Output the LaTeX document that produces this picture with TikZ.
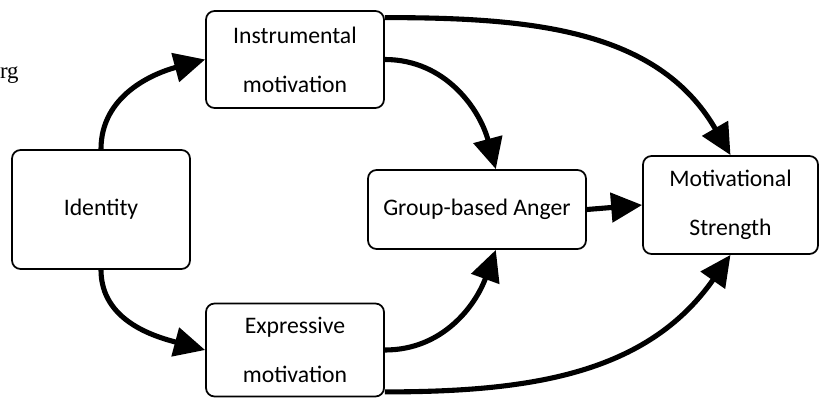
\documentclass[tikz,border=0pt]{standalone}
\usepackage{fontspec}
\setmainfont{Carlito}
\newfontfamily\pagefont{Liberation Serif}
\usetikzlibrary{arrows.meta}

\begin{document}
\begin{tikzpicture}[x = 0.02cm, y = 0.02cm,
        box/.style = {draw, black, rounded corners = 0.17cm, line width = 1pt, align = center, inner sep = 0pt, font = {\fontsize{13.5}{28}\selectfont}},
        link/.style = {line width = 2.9pt, -{Triangle[length = 0.62cm, width = 0.58cm]}}]
        \useasboundingbox (0, 0) rectangle (819, 397);

        \node[font = {\pagefont\fontsize{13}{15}\selectfont}, anchor = base east, inner sep = 0pt] (rg) at (19, 319) {rg};

        \node[box, minimum width = 3.56cm, minimum height = 2.38cm] (identity) at (101, 187.5) {Identity};
        \node[box, minimum width = 3.56cm, minimum height = 1.94cm] (instr) at (295, 337.5) {Instrumental\\motivation};
        \node[box, minimum width = 3.56cm, minimum height = 1.86cm] (expr) at (295, 47) {Expressive\\motivation};
        \node[box, minimum width = 4.36cm, minimum height = 1.58cm] (anger) at (477, 187.5) {Group-based Anger};
        \node[box, minimum width = 3.5cm, minimum height = 1.96cm] (strength) at (730.5, 192) {Motivational\\Strength};

        \draw[link] (identity.north) to[out = 90, in = 195] (instr.west);
        \draw[link] (identity.south) to[out = -90, in = 165] (expr.west);
        \draw[link] (instr.east) to[out = 0, in = 105] (anger.65);
        \draw[link] (instr.25) to[out = 0, in = 120] (strength.north);
        \draw[link] (anger.east) -- (strength.west);
        \draw[link] (expr.east) to[out = 0, in = -110] (anger.-65);
        \draw[link] (expr.-25) to[out = 0, in = -125] (strength.south);
    \end{tikzpicture}
\end{document}
